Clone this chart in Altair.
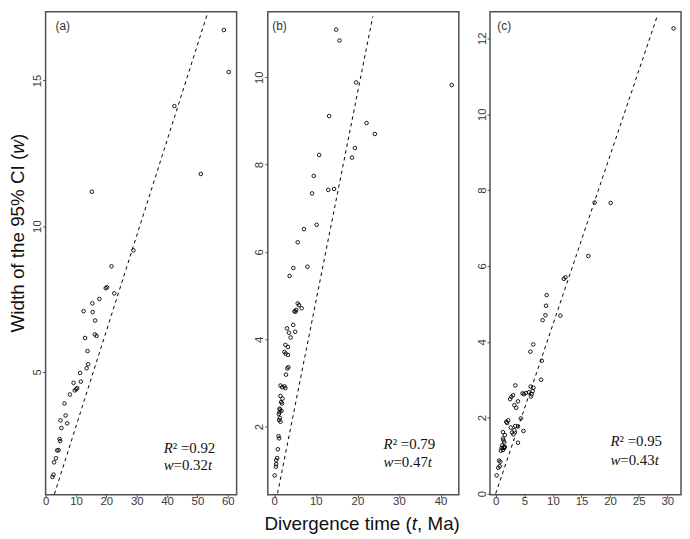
import altair as alt
import pandas as pd

# ---------------- data ----------------
# Panel (a)
a_t = [58.7, 60.3, 42.4, 51.1, 15.2, 28.9, 21.7, 19.8, 20.2, 22.6, 17.7, 15.4, 12.5, 15.5,
       16.3, 16.2, 16.8, 13.0, 13.8, 14.0, 13.5, 11.35, 9.2, 11.6, 10.4, 10.1, 9.6, 8.0,
       6.2, 6.6, 4.9, 7.1, 5.2, 4.6, 4.8, 3.8, 4.3, 3.4, 2.8, 2.6, 2.25]
a_w = [16.73, 15.29, 14.12, 11.79, 11.18, 9.17, 8.62, 7.87, 7.90, 7.69, 7.50, 7.35, 7.08, 7.05,
       6.76, 6.28, 6.23, 6.16, 5.71, 5.26, 5.12, 4.96, 4.62, 4.66, 4.44, 4.40, 4.36, 4.22,
       3.91, 3.50, 3.33, 3.23, 3.07, 2.69, 2.62, 2.30, 2.31, 2.03, 1.89, 1.47, 1.39]
a_line_t = [2.9, 53.3]
a_line_w = [0.8, 17.3]

# Panel (b)
b_t = [14.9, 15.7, 19.7, 42.7, 13.2, 22.2, 24.2, 19.4, 18.7, 10.8, 9.5, 9.1, 13.0, 14.4,
       10.2, 7.15, 5.65, 4.6, 8.0, 3.7,
       5.65, 5.97, 6.59, 4.87, 5.27, 5.1, 4.56, 3.06, 3.53, 5.03, 3.93, 2.68, 3.3, 2.44,
       2.75, 3.3, 3.38, 3.15, 2.83,
       1.5, 1.9, 2.44, 2.68, 1.5, 1.98, 1.65, 1.88, 1.27, 1.41, 1.74, 1.27, 1.1,
       1.34, 1.18, 1.5, 1.03, 1.18, 0.87, 0.71, 0.47, 0.47, 0.4, 0.1]
b_w = [11.09, 10.84, 9.88, 9.82, 9.11, 8.95, 8.70, 8.38, 8.16, 8.22, 7.74, 7.34, 7.42, 7.44,
       6.62, 6.52, 6.22, 5.63, 5.66, 5.45,
       4.82, 4.78, 4.71, 4.64, 4.67, 4.63, 4.33, 4.25, 4.15, 4.17, 4.04, 3.87, 3.82, 3.71,
       3.67, 3.64, 3.36, 3.33, 3.19,
       2.94, 2.90, 2.92, 2.88, 2.70, 2.64, 2.56, 2.53, 2.41, 2.39, 2.36, 2.33, 2.29,
       2.20, 2.15, 2.11, 1.78, 1.73, 1.48, 1.28, 1.23, 1.14, 1.08, 0.88]
b_line_t = [0.8, 23.7]
b_line_w = [0.47, 11.39]

# Panel (c)
c_t = [31.1, 17.3, 20.1, 16.2, 11.9, 12.2, 8.9, 8.8, 8.7, 11.3, 8.2, 6.57, 6.06, 8.06,
       7.94, 6.1, 6.6, 3.43,
       3.03, 4.68, 4.92, 5.26, 5.83, 6.29, 6.46, 6.17, 2.52, 2.74, 3.89, 3.26, 3.6, 4.4,
       2.17, 1.83, 2.0, 2.63, 3.26, 3.89, 3.43, 4.86, 3.89, 1.26, 1.6, 2.86, 3.09, 1.26,
       1.37, 1.49, 1.14, 1.37, 1.03, 1.26, 0.91, 1.49, 1.6, 0.57, 0.8, 0.69, 0.45, 0.17]
c_w = [12.26, 7.67, 7.66, 6.26, 5.66, 5.70, 5.23, 4.95, 4.70, 4.69, 4.57, 3.93, 3.74, 3.50,
       3.00, 2.82, 2.79, 2.85,
       2.59, 2.64, 2.62, 2.65, 2.67, 2.62, 2.70, 2.56, 2.49, 2.55, 2.43, 2.33, 2.26, 1.98,
       1.93, 1.89, 1.86, 1.74, 1.67, 1.77, 1.78, 1.65, 1.34, 1.62, 1.54, 1.61, 1.56, 1.45,
       1.40, 1.35, 1.27, 1.22, 1.20, 1.15, 1.13, 1.20, 1.23, 0.87, 0.84, 0.72, 0.68, 0.48]
c_line_t = [0.0, 28.3]
c_line_w = [0.0, 12.61]

# axis ticks and annotation texts
a_xticks = [0, 10, 20, 30, 40, 50, 60]
a_yticks = [5, 10, 15]
b_xticks = [0, 10, 20, 30, 40]
b_yticks = [2, 4, 6, 8, 10]
c_xticks = [0, 5, 10, 15, 20, 25, 30]
c_yticks = [0, 2, 4, 6, 8, 10, 12]
letters = ["(a)", "(b)", "(c)"]
r2_values = ["0.92", "0.79", "0.95"]
slopes = ["0.32", "0.47", "0.43"]

# ---------------- styling ----------------
W, H = 193, 488
FRAME = "#505050"
SANS = "Liberation Sans"
SERIF = "Liberation Serif"
ONE = pd.DataFrame({"k": [0]})


def txt(s, x, y, size, font, style="normal", angle=0, color="#111111"):
    return alt.Chart(ONE).mark_text(
        text=s, font=font, fontSize=size, fontStyle=style, angle=angle,
        align="left", baseline="alphabetic", color=color
    ).encode(x=alt.value(x), y=alt.value(y))


def panel(t, w, lt, lw, xdom, ydom, xt, yt, letter, letter_dx, r2, slope,
          r2_x, y1, y2, extra):
    xs = alt.Scale(domain=xdom, nice=False, zero=False)
    ys = alt.Scale(domain=ydom, nice=False, zero=False)
    xax = alt.Axis(values=xt, title=None, labelAngle=0, labelAlign="center",
                   labelBaseline="alphabetic", labelPadding=7,
                   labelFlush=False, labelOverlap=False)
    yax = alt.Axis(values=yt, title=None, labelAngle=270, labelAlign="center",
                   labelBaseline="alphabetic", labelPadding=2,
                   labelFlush=False, labelOverlap=False)
    X = alt.X("t:Q", scale=xs, axis=xax)
    Y = alt.Y("w:Q", scale=ys, axis=yax)
    pts = alt.Chart(pd.DataFrame({"t": t, "w": w})).mark_point(
        shape="circle", filled=False, size=13, strokeWidth=0.9,
        color="black", opacity=1
    ).encode(x=X, y=Y)
    line = alt.Chart(pd.DataFrame({"t": lt, "w": lw})).mark_line(
        color="black", strokeWidth=1, strokeDash=[3.5, 3.5], clip=True
    ).encode(x=X, y=Y)
    layers = [line, pts,
              txt(letter, letter_dx, 18, 12, SANS, color="#333333"),
              txt("R", r2_x, y1, 15, SERIF, "italic"),
              txt("\u00b2 =" + r2, r2_x + 9.2, y1, 15, SERIF),
              txt("w", r2_x, y2, 15, SERIF, "italic"),
              txt("=" + slope, r2_x + 10.0, y2, 15, SERIF),
              txt("t", r2_x + 44.7, y2, 15, SERIF, "italic")]
    layers += extra
    return alt.layer(*layers).properties(width=W, height=H)


ytitle = [
    txt("Width of the 95% CI (", -22, 324, 19, SANS, angle=270),
    txt("w", -22, 143.4, 19, SANS, "italic", angle=270),
    txt(")", -22, 129.7, 19, SANS, angle=270),
]
xtitle = [
    txt("Divergence time (", -3.4, H + 35.6, 19, SANS),
    txt("t", 145.5, H + 35.6, 19, SANS, "italic"),
    txt(", Ma)", 150.8, H + 35.6, 19, SANS),
]

pa = panel(a_t, a_w, a_line_t, a_line_w, [0, 62.9], [0.78, 17.36], a_xticks, a_yticks,
           letters[0], 10, r2_values[0], slopes[0], W - 73.7, H - 42, H - 25.4, ytitle)
pb = panel(b_t, b_w, b_line_t, b_line_w, [-1.55, 44.4], [0.44, 11.5], b_xticks, b_yticks,
           letters[1], 4.5, r2_values[1], slopes[1], W - 76, H - 46, H - 28.4, xtitle)
pc = panel(c_t, c_w, c_line_t, c_line_w, [-1.0, 32.4], [-0.03, 12.7], c_xticks, c_yticks,
           letters[2], 7.4, r2_values[2], slopes[2], W - 71.3, H - 49.4, H - 30.4, [])

chart = alt.hconcat(pa, pb, pc, spacing=31.5, bounds="flush").properties(
    padding=0
).configure_view(
    stroke=FRAME, strokeWidth=1.5
).configure_axis(
    grid=False, domain=False, tickColor=FRAME, tickSize=3, tickWidth=1,
    labelColor="#3a3a3a", labelFont=SANS, labelFontSize=11.5
)

chart.save("out.html", embed_options={"renderer": "svg", "actions": False})
